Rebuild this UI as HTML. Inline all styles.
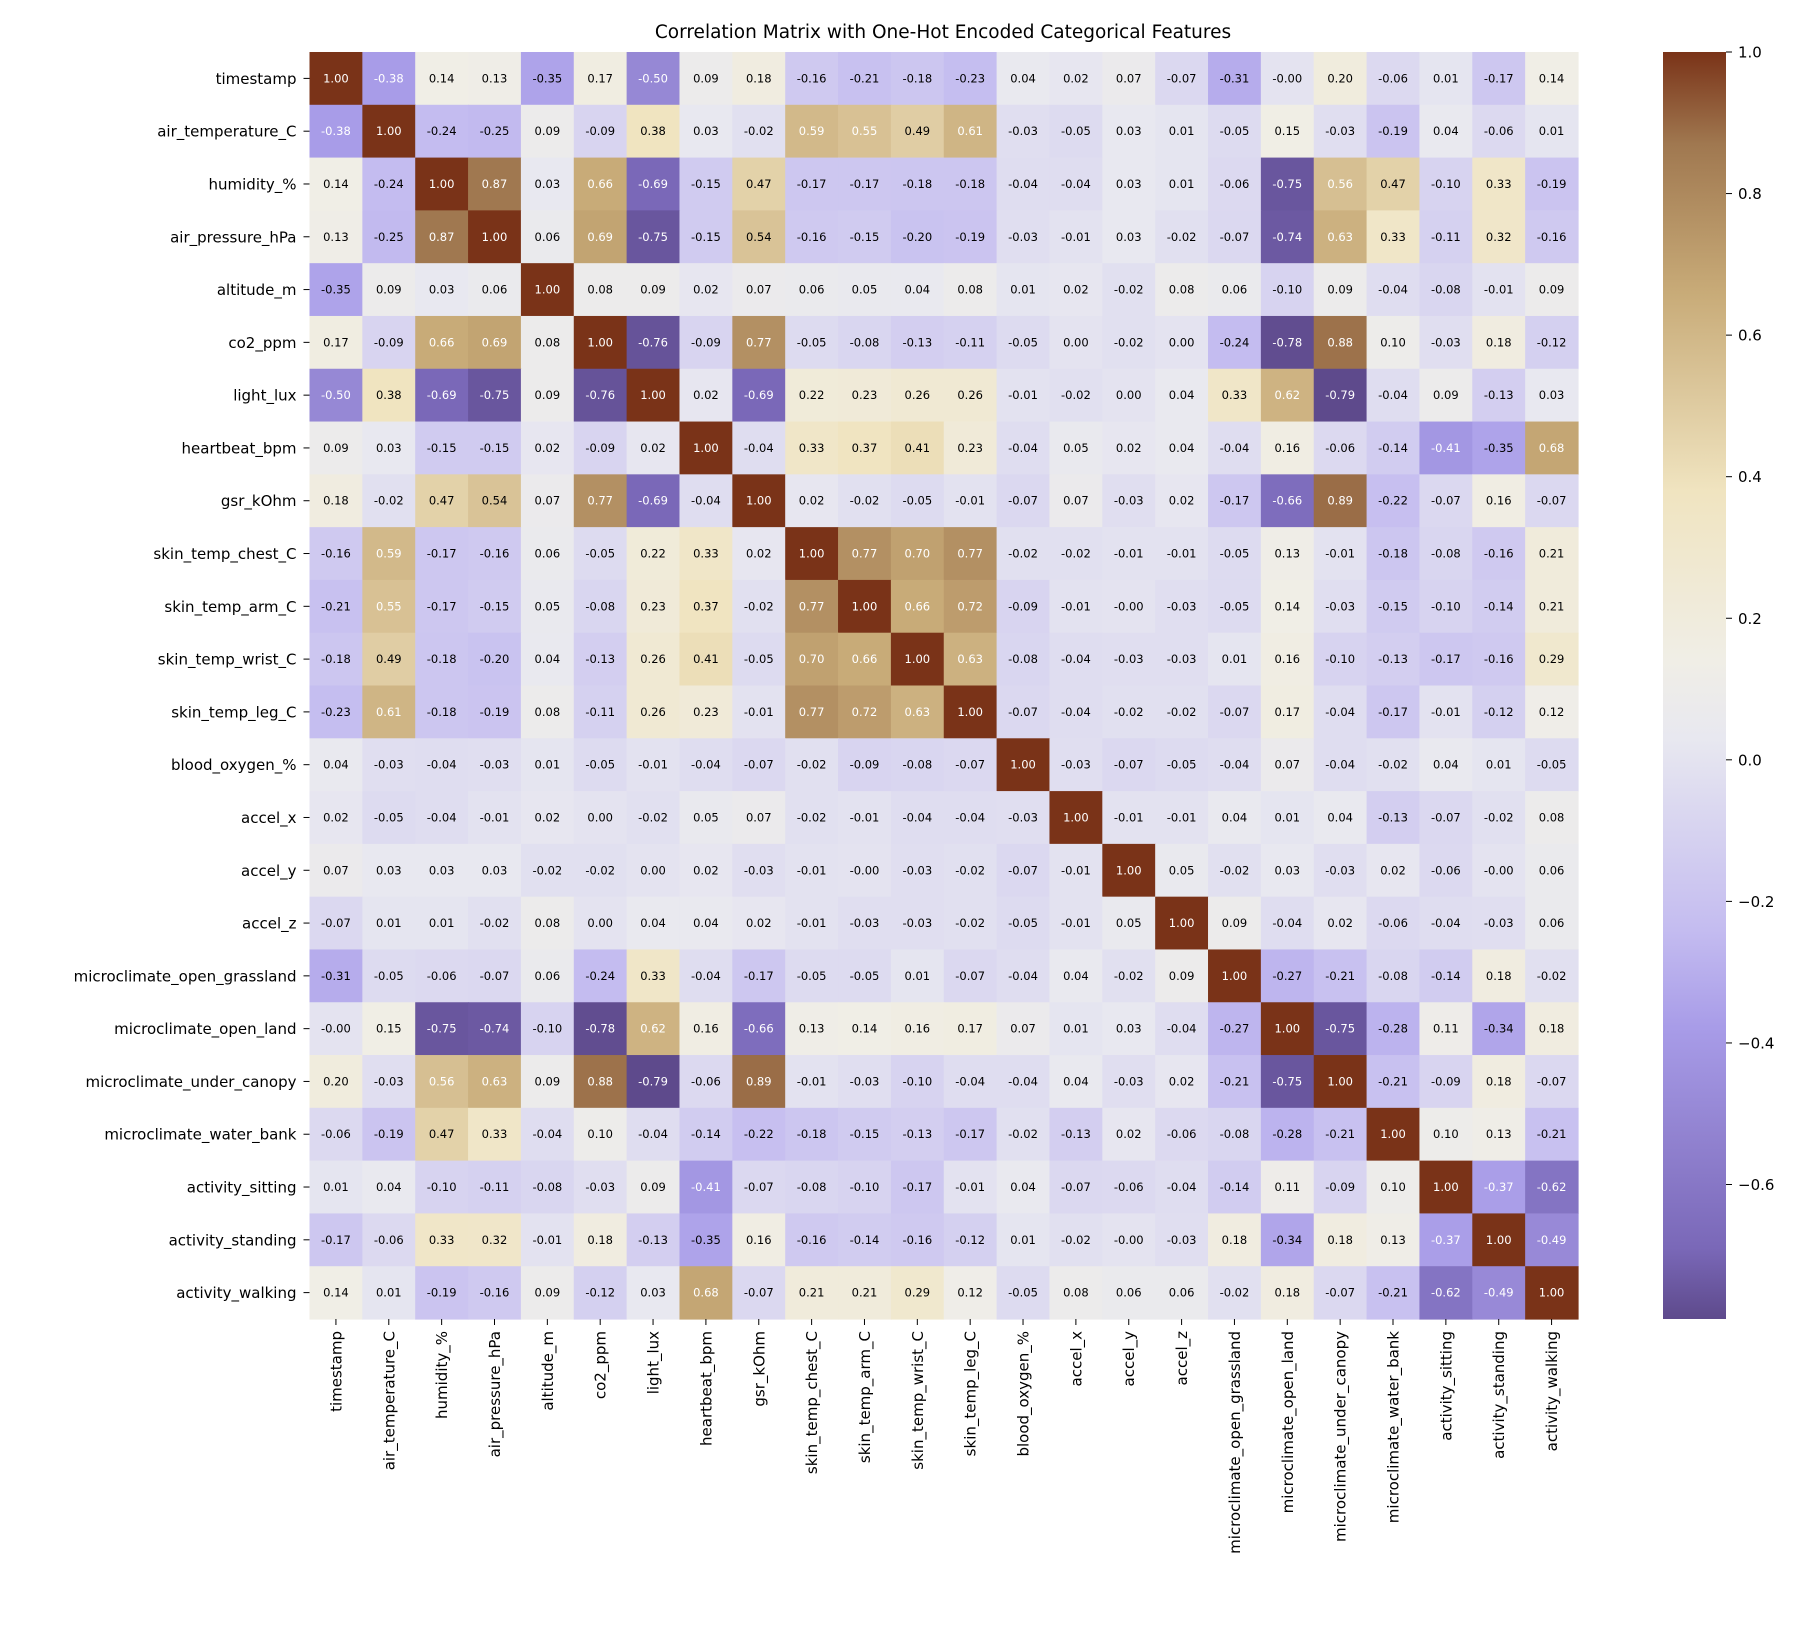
<!DOCTYPE html>
<html><head><meta charset="utf-8"><style>
html,body{margin:0;padding:0;background:#fff;}
svg{display:block;font-family:"DejaVu Sans","Liberation Sans",sans-serif;}
</style></head><body>
<svg id="chart" width="1800" height="1648" viewBox="0 0 1800 1648" xmlns="http://www.w3.org/2000/svg">
<rect width="1800" height="1648" fill="#fff"/>
<text x="943" y="38" font-size="18.5" text-anchor="middle" fill="#000">Correlation Matrix with One-Hot Encoded Categorical Features</text>
<defs><linearGradient id="cbg" x1="0" y1="1" x2="0" y2="0">
<stop offset="0" stop-color="#5e4a8c"/><stop offset="0.056" stop-color="#7a68b8"/><stop offset="0.23" stop-color="#a89ce8"/><stop offset="0.307" stop-color="#c4bcf0"/><stop offset="0.458" stop-color="#e8e8f0"/><stop offset="0.52" stop-color="#f0eee6"/><stop offset="0.653" stop-color="#f0e4c0"/><stop offset="0.81" stop-color="#c8ab78"/><stop offset="0.927" stop-color="#a07850"/><stop offset="1" stop-color="#7a3318"/>
</linearGradient></defs>
<g id="cells"></g>
<g id="axes"></g>
<rect x="1663" y="52" width="63" height="1267" fill="url(#cbg)"/>
<g id="cbticks"></g>
</svg>
<script>
const labels = ["timestamp","air_temperature_C","humidity_%","air_pressure_hPa","altitude_m","co2_ppm","light_lux","heartbeat_bpm","gsr_kOhm","skin_temp_chest_C","skin_temp_arm_C","skin_temp_wrist_C","skin_temp_leg_C","blood_oxygen_%","accel_x","accel_y","accel_z","microclimate_open_grassland","microclimate_open_land","microclimate_under_canopy","microclimate_water_bank","activity_sitting","activity_standing","activity_walking"];
const r01 = [1.00,-0.38,0.14,0.13,-0.35,0.17,-0.50,0.09,0.18,-0.16,-0.21,-0.18,-0.23,0.04,0.02,0.07,-0.07,-0.31,-0.001,0.20,-0.06,0.01,-0.17,0.14];
const r02 = [-0.38,1.00,-0.24,-0.25,0.09,-0.09,0.38,0.03,-0.02,0.59,0.55,0.49,0.61,-0.03,-0.05,0.03,0.01,-0.05,0.15,-0.03,-0.19,0.04,-0.06,0.01];
const r03 = [0.14,-0.24,1.00,0.87,0.03,0.66,-0.69,-0.15,0.47,-0.17,-0.17,-0.18,-0.18,-0.04,-0.04,0.03,0.01,-0.06,-0.75,0.56,0.47,-0.10,0.33,-0.19];
const r04 = [0.13,-0.25,0.87,1.00,0.06,0.69,-0.75,-0.15,0.54,-0.16,-0.15,-0.20,-0.19,-0.03,-0.01,0.03,-0.02,-0.07,-0.74,0.63,0.33,-0.11,0.32,-0.16];
const r05 = [-0.35,0.09,0.03,0.06,1.00,0.08,0.09,0.02,0.07,0.06,0.05,0.04,0.08,0.01,0.02,-0.02,0.08,0.06,-0.10,0.09,-0.04,-0.08,-0.01,0.09];
const r06 = [0.17,-0.09,0.66,0.69,0.08,1.00,-0.76,-0.09,0.77,-0.05,-0.08,-0.13,-0.11,-0.05,0.00,-0.02,0.00,-0.24,-0.78,0.88,0.10,-0.03,0.18,-0.12];
const r07 = [-0.50,0.38,-0.69,-0.75,0.09,-0.76,1.00,0.02,-0.69,0.22,0.23,0.26,0.26,-0.01,-0.02,0.00,0.04,0.33,0.62,-0.79,-0.04,0.09,-0.13,0.03];
const r08 = [0.09,0.03,-0.15,-0.15,0.02,-0.09,0.02,1.00,-0.04,0.33,0.37,0.41,0.23,-0.04,0.05,0.02,0.04,-0.04,0.16,-0.06,-0.14,-0.41,-0.35,0.68];
const r09 = [0.18,-0.02,0.47,0.54,0.07,0.77,-0.69,-0.04,1.00,0.02,-0.02,-0.05,-0.01,-0.07,0.07,-0.03,0.02,-0.17,-0.66,0.89,-0.22,-0.07,0.16,-0.07];
const r10 = [-0.16,0.59,-0.17,-0.16,0.06,-0.05,0.22,0.33,0.02,1.00,0.77,0.70,0.77,-0.02,-0.02,-0.01,-0.01,-0.05,0.13,-0.01,-0.18,-0.08,-0.16,0.21];
const r11 = [-0.21,0.55,-0.17,-0.15,0.05,-0.08,0.23,0.37,-0.02,0.77,1.00,0.66,0.72,-0.09,-0.01,-0.001,-0.03,-0.05,0.14,-0.03,-0.15,-0.10,-0.14,0.21];
const r12 = [-0.18,0.49,-0.18,-0.20,0.04,-0.13,0.26,0.41,-0.05,0.70,0.66,1.00,0.63,-0.08,-0.04,-0.03,-0.03,0.01,0.16,-0.10,-0.13,-0.17,-0.16,0.29];
const r13 = [-0.23,0.61,-0.18,-0.19,0.08,-0.11,0.26,0.23,-0.01,0.77,0.72,0.63,1.00,-0.07,-0.04,-0.02,-0.02,-0.07,0.17,-0.04,-0.17,-0.01,-0.12,0.12];
const r14 = [0.04,-0.03,-0.04,-0.03,0.01,-0.05,-0.01,-0.04,-0.07,-0.02,-0.09,-0.08,-0.07,1.00,-0.03,-0.07,-0.05,-0.04,0.07,-0.04,-0.02,0.04,0.01,-0.05];
const r15 = [0.02,-0.05,-0.04,-0.01,0.02,0.00,-0.02,0.05,0.07,-0.02,-0.01,-0.04,-0.04,-0.03,1.00,-0.01,-0.01,0.04,0.01,0.04,-0.13,-0.07,-0.02,0.08];
const r16 = [0.07,0.03,0.03,0.03,-0.02,-0.02,0.00,0.02,-0.03,-0.01,-0.001,-0.03,-0.02,-0.07,-0.01,1.00,0.05,-0.02,0.03,-0.03,0.02,-0.06,-0.001,0.06];
const r17 = [-0.07,0.01,0.01,-0.02,0.08,0.00,0.04,0.04,0.02,-0.01,-0.03,-0.03,-0.02,-0.05,-0.01,0.05,1.00,0.09,-0.04,0.02,-0.06,-0.04,-0.03,0.06];
const r18 = [-0.31,-0.05,-0.06,-0.07,0.06,-0.24,0.33,-0.04,-0.17,-0.05,-0.05,0.01,-0.07,-0.04,0.04,-0.02,0.09,1.00,-0.27,-0.21,-0.08,-0.14,0.18,-0.02];
const r19 = [-0.001,0.15,-0.75,-0.74,-0.10,-0.78,0.62,0.16,-0.66,0.13,0.14,0.16,0.17,0.07,0.01,0.03,-0.04,-0.27,1.00,-0.75,-0.28,0.11,-0.34,0.18];
const r20 = [0.20,-0.03,0.56,0.63,0.09,0.88,-0.79,-0.06,0.89,-0.01,-0.03,-0.10,-0.04,-0.04,0.04,-0.03,0.02,-0.21,-0.75,1.00,-0.21,-0.09,0.18,-0.07];
const r21 = [-0.06,-0.19,0.47,0.33,-0.04,0.10,-0.04,-0.14,-0.22,-0.18,-0.15,-0.13,-0.17,-0.02,-0.13,0.02,-0.06,-0.08,-0.28,-0.21,1.00,0.10,0.13,-0.21];
const r22 = [0.01,0.04,-0.10,-0.11,-0.08,-0.03,0.09,-0.41,-0.07,-0.08,-0.10,-0.17,-0.01,0.04,-0.07,-0.06,-0.04,-0.14,0.11,-0.09,0.10,1.00,-0.37,-0.62];
const r23 = [-0.17,-0.06,0.33,0.32,-0.01,0.18,-0.13,-0.35,0.16,-0.16,-0.14,-0.16,-0.12,0.01,-0.02,-0.001,-0.03,0.18,-0.34,0.18,0.13,-0.37,1.00,-0.49];
const r24 = [0.14,0.01,-0.19,-0.16,0.09,-0.12,0.03,0.68,-0.07,0.21,0.21,0.29,0.12,-0.05,0.08,0.06,0.06,-0.02,0.18,-0.07,-0.21,-0.62,-0.49,1.00];
const matrix = [r01,r02,r03,r04,r05,r06,r07,r08,r09,r10,r11,r12,r13,r14,r15,r16,r17,r18,r19,r20,r21,r22,r23,r24];
const cbTicks = [1.0,0.8,0.6,0.4,0.2,0.0,-0.2,-0.4,-0.6];

const NS="http://www.w3.org/2000/svg";
const L=309.5,T=52,W=1268.5,H=1267,n=labels.length,cw=W/n,ch=H/n;
const CBX=1663,CBW=63;
const vmin=-0.79,vmax=1.0;
const xPos=i=>L+i*cw, yPos=i=>T+i*ch;
const cbY=v=>T+H*(vmax-v)/(vmax-vmin);
const stops=[[0,"#5e4a8c"],[0.056,"#7a68b8"],[0.23,"#a89ce8"],[0.307,"#c4bcf0"],[0.458,"#e8e8f0"],[0.52,"#f0eee6"],[0.653,"#f0e4c0"],[0.81,"#c8ab78"],[0.927,"#a07850"],[1,"#7a3318"]];
const hx=h=>[1,3,5].map(k=>parseInt(h.substr(k,2),16));
function color(v){let t=Math.max(0,Math.min(1,(v-vmin)/(vmax-vmin)));
 for(let k=1;k<stops.length;k++){if(t<=stops[k][0]){const a=stops[k-1],b=stops[k];const f=(t-a[0])/(b[0]-a[0]);const ca=hx(a[1]),cb=hx(b[1]);return ca.map((c,j)=>Math.round(c+(cb[j]-c)*f));}}
 return hx(stops[stops.length-1][1]);}
const mk=(t,a)=>{const e=document.createElementNS(NS,t);for(const k in a)e.setAttribute(k,a[k]);return e;};
const cells=document.getElementById('cells'),axes=document.getElementById('axes'),cbt=document.getElementById('cbticks');
matrix.forEach((row,i)=>row.forEach((v,j)=>{
 const c=color(v);
 const r=mk('rect',{x:xPos(j),y:yPos(i),width:cw+0.6,height:ch+0.6,fill:`rgb(${c})`});
 
 
 cells.appendChild(r);
 const white=(v>=0.55||v<=-0.36);
 const tx=mk('text',{x:xPos(j)+cw/2,y:yPos(i)+ch/2+4,'font-size':'11.5','text-anchor':'middle',fill:white?'#fff':'#000'});
 tx.textContent=v.toFixed(2);
 
 
 cells.appendChild(tx);
}));
labels.forEach((lab,i)=>{
 const yc=yPos(i)+ch/2;
 axes.appendChild(mk('line',{x1:L-6,x2:L,y1:yc,y2:yc,stroke:'#000','stroke-width':1}));
 const t=mk('text',{x:L-13,y:yc+5.5,'font-size':'15','text-anchor':'end',fill:'#000'});
 t.textContent=lab;
 
 
 axes.appendChild(t);
 const xc=xPos(i)+cw/2;
 axes.appendChild(mk('line',{x1:xc,x2:xc,y1:T+H,y2:T+H+6,stroke:'#000','stroke-width':1}));
 const u=mk('text',{x:0,y:0,'font-size':'15','text-anchor':'end',fill:'#000',transform:`translate(${xc+5.5},${T+H+12}) rotate(-90)`});
 u.textContent=lab;
 
 
 axes.appendChild(u);
});
cbTicks.forEach(v=>{
 const y=cbY(v);
 cbt.appendChild(mk('line',{x1:CBX+CBW,x2:CBX+CBW+6,y1:y,y2:y,stroke:'#000','stroke-width':1}));
 const t=mk('text',{x:CBX+CBW+12,y:y+5.5,'font-size':'15',fill:'#000'});
 t.textContent=v<0?'\u2212'+Math.abs(v).toFixed(1):v.toFixed(1);
 
 
 cbt.appendChild(t);
});
</script>
</body></html>
